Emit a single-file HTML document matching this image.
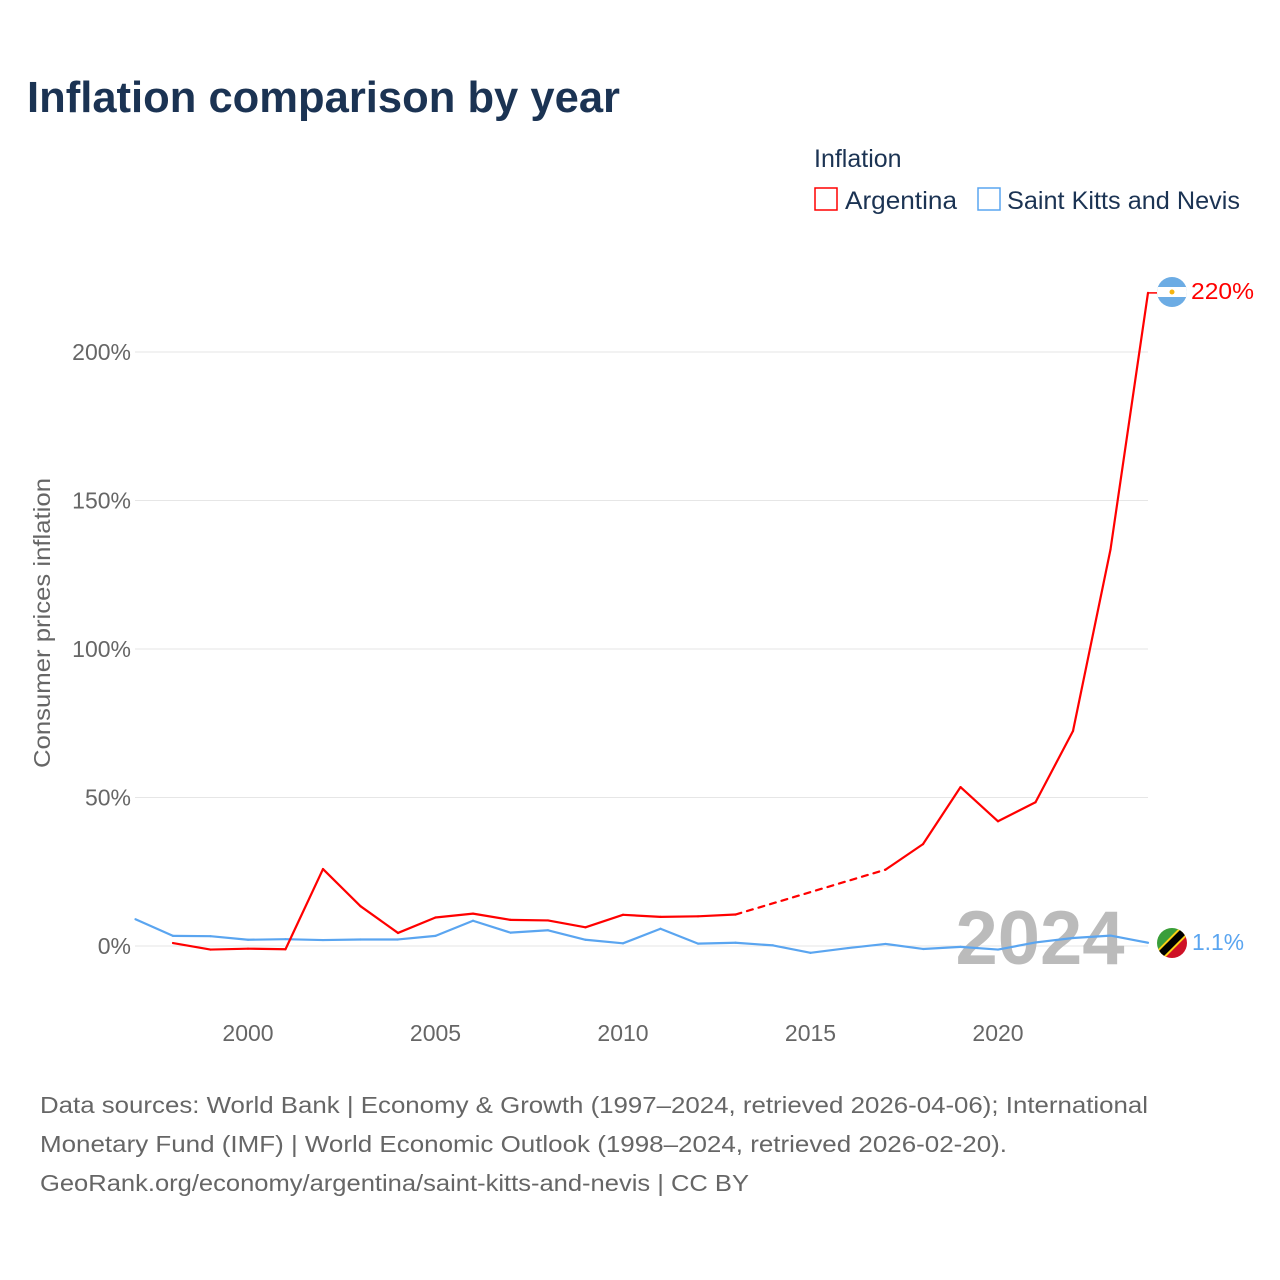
<!DOCTYPE html>
<html><head><meta charset="utf-8"><style>
body{margin:0;background:#fff;font-family:"Liberation Sans",sans-serif}
#wrap{position:relative;width:1280px;height:1280px;overflow:hidden}
</style></head><body><div id="wrap">
<svg id="chart" width="1280" height="1280" xmlns="http://www.w3.org/2000/svg">
<text x="27" y="112" font-size="44" font-weight="bold" fill="#1b3353" textLength="593" lengthAdjust="spacingAndGlyphs">Inflation comparison by year</text>
<text x="814" y="167" font-size="25" fill="#1b3353">Inflation</text>
<g><rect x="815" y="188" width="22" height="22" fill="none" stroke="#f00" stroke-width="1.5"/><text x="845" y="209" font-size="25" fill="#1b3353" textLength="112" lengthAdjust="spacingAndGlyphs">Argentina</text></g>
<g><rect x="978" y="188" width="22" height="22" fill="none" stroke="#5aa5f0" stroke-width="1.5"/><text x="1007" y="209" font-size="25" fill="#1b3353" textLength="233" lengthAdjust="spacingAndGlyphs">Saint Kitts and Nevis</text></g>
<text transform="translate(50,623) rotate(-90)" text-anchor="middle" font-size="23" fill="#666" textLength="290" lengthAdjust="spacingAndGlyphs">Consumer prices inflation</text>
<g id="grid"></g><g id="xt"></g>
<text x="1040" y="964" text-anchor="middle" font-size="76" font-weight="bold" fill="#bbb">2024</text>
<g id="series"></g>
<g><clipPath id="c1"><circle cx="1172" cy="292" r="15"/></clipPath><g clip-path="url(#c1)"><rect x="1157" y="277" width="30" height="30" fill="#6cace4"/><rect x="1157" y="287" width="30" height="10" fill="#fff"/><circle cx="1172" cy="292" r="2.5" fill="#f6b40e"/></g></g>
<g><clipPath id="c2"><circle cx="1172" cy="943" r="15"/></clipPath><g clip-path="url(#c2)"><polygon points="1157,928 1187,928 1157,958" fill="#3a9e3a"/><polygon points="1187,928 1187,958 1157,958" fill="#ce1126"/><line x1="1157" y1="958" x2="1187" y2="928" stroke="#fcd116" stroke-width="11"/><line x1="1157" y1="958" x2="1187" y2="928" stroke="#000" stroke-width="7"/></g></g>
<text x="1191" y="299" font-size="23" fill="#f00" textLength="63" lengthAdjust="spacingAndGlyphs">220%</text>
<text x="1192" y="950" font-size="23" fill="#5aa5f0" textLength="52" lengthAdjust="spacingAndGlyphs">1.1%</text>
<g font-size="23" fill="#666">
<text x="40" y="1113" textLength="1108" lengthAdjust="spacingAndGlyphs">Data sources: World Bank | Economy &amp; Growth (1997–2024, retrieved 2026-04-06); International</text>
<text x="40" y="1152" textLength="967" lengthAdjust="spacingAndGlyphs">Monetary Fund (IMF) | World Economic Outlook (1998–2024, retrieved 2026-02-20).</text>
<text x="40" y="1191" textLength="709" lengthAdjust="spacingAndGlyphs">GeoRank.org/economy/argentina/saint-kitts-and-nevis | CC BY</text>
</g>
</svg></div>
<script>
const yTicks=[0,50,100,150,200];
const xTicks=[2000,2005,2010,2015,2020];
const argYears=[1998,1999,2000,2001,2002,2003,2004,2005,2006,2007,2008,2009,2010,2011,2012,2013,2017,2018,2019,2020,2021,2022,2023,2024];
const argVals=[1,-1.2,-0.9,-1.1,25.9,13.4,4.4,9.6,10.9,8.8,8.6,6.3,10.5,9.8,10,10.6,25.7,34.3,53.5,42,48.4,72.4,133.5,219.9];
const sknYears=[1997,1998,1999,2000,2001,2002,2003,2004,2005,2006,2007,2008,2009,2010,2011,2012,2013,2014,2015,2016,2017,2018,2019,2020,2021,2022,2023,2024];
const sknVals=[9,3.4,3.3,2.1,2.3,2,2.2,2.2,3.4,8.5,4.5,5.3,2.1,0.9,5.8,0.8,1.1,0.2,-2.3,-0.7,0.7,-1,-0.3,-1.2,1.2,2.7,3.5,1.1];
const X=y=>248+(y-2000)*37.5, Y=v=>946-v*2.97;
const NS='http://www.w3.org/2000/svg';
function mk(t,p,a){const e=document.createElementNS(NS,t);for(const k in a)e.setAttribute(k,a[k]);p.appendChild(e);return e;}
const g=document.getElementById('grid');
yTicks.forEach(v=>{
 const l=mk('line',g,{x1:135,x2:1148,y1:Y(v),y2:Y(v),stroke:'#e6e6e6','stroke-width':1});
 
 
 const t=mk('text',g,{x:131,y:Y(v)+8,'text-anchor':'end','font-size':23,fill:'#666'});t.textContent=v+'%';
 
 
});
const xt=document.getElementById('xt');
xTicks.forEach(v=>{const t=mk('text',xt,{x:X(v),y:1041,'text-anchor':'middle','font-size':23,fill:'#666'});t.textContent=v;
 
 });
const s=document.getElementById('series');
function draw(ys,vs,col,name){
 for(let i=1;i<ys.length;i++){
  const l=mk('line',s,{x1:X(ys[i-1]),y1:Y(vs[i-1]),x2:X(ys[i]),y2:Y(vs[i]),stroke:col,'stroke-width':2.2,'stroke-linecap':'round'});
  if(ys[i]-ys[i-1]>1)l.setAttribute('stroke-dasharray','6 6');
  
  
 }
}
draw(sknYears,sknVals,'#5aa5f0','saint-kitts-line');
draw(argYears,argVals,'#f00','argentina-line');
const a=argVals[argVals.length-1];
const c=mk('line',s,{x1:X(2024),y1:Y(a),x2:1157,y2:Y(a),stroke:'#f00','stroke-width':1.5});


</script></body></html>
